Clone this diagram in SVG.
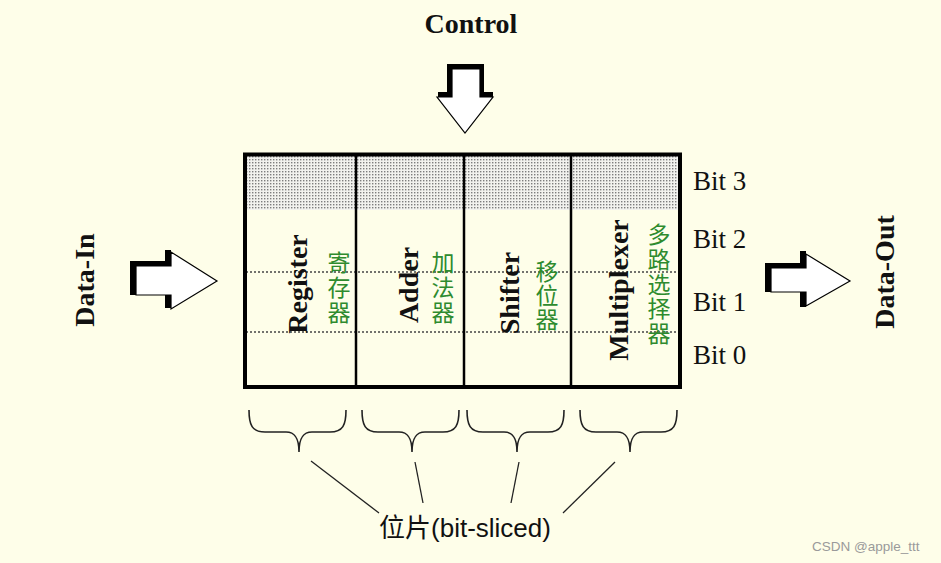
<svg xmlns="http://www.w3.org/2000/svg" width="941" height="563" viewBox="0 0 941 563">
  <defs>
    <pattern id="dots" width="3" height="3" patternUnits="userSpaceOnUse">
      <rect width="3" height="3" fill="#f2f2ee"/>
      <rect x="0" y="0" width="1.4" height="1.4" fill="#7d7d7d"/>
    </pattern>
    <path id="brace" d="M0,0 C0,15 3,22 16,22 L37,22 C46,22 50,28 50,42 C50,28 54,22 63,22 L81,22 C94,22 97,15 97,0" fill="none" stroke="#222" stroke-width="1.6"/>
    <style>
      .bold { font-family: "Liberation Serif", "Times New Roman", serif; font-weight: bold; font-size: 28px; fill: #111; }
      .bit { font-family: "Liberation Serif", "Times New Roman", serif; font-size: 27px; fill: #111; }
      .cn { font-family: "Noto Sans CJK SC", sans-serif; font-size: 23px; fill: #2e8b2e; writing-mode: vertical-rl; text-orientation: upright; }
      .shadow { fill: #000; }
      .arrow { fill: #fff; stroke: #000; stroke-width: 1.2; stroke-linejoin: miter; }
      .div { stroke: #000; stroke-width: 2.5; }
      .dotline { stroke: #444; stroke-width: 1.3; stroke-dasharray: 2 2; }
      .conn { stroke: #222; stroke-width: 1.3; fill: none; }
    </style>
  </defs>

  <rect width="941" height="563" fill="#fefee9"/>

  <g id="control">
    <text class="bold" x="471" y="33" text-anchor="middle">Control</text>
    <rect class="shadow" x="447" y="64" width="37" height="33"/>
    <rect class="shadow" x="438" y="92" width="55" height="5"/>
    <polygon class="arrow" points="452,69 480,69 480,97 493,97 465,133 437,97 452,97"/>
  </g>

  <g id="data-in">
    <text class="bold" transform="translate(94,280) rotate(-90)" text-anchor="middle" font-size="29">Data-In</text>
    <rect class="shadow" x="130" y="261" width="41" height="34"/>
    <rect class="shadow" x="165" y="250" width="6" height="58"/>
    <polygon class="arrow" points="136,266 171,266 171,252 217,281 171,309 171,295 136,295"/>
  </g>

  <g id="data-out">
    <text class="bold" transform="translate(894,272) rotate(-90)" text-anchor="middle">Data-Out</text>
    <rect class="shadow" x="765" y="263" width="42" height="29"/>
    <rect class="shadow" x="800" y="251" width="6" height="56"/>
    <polygon class="arrow" points="771,268 806,268 806,254 850,281 806,306 806,292 771,292"/>
  </g>

  <g id="slice-box">
    <rect x="245" y="154" width="435" height="56" fill="url(#dots)"/>
    <line class="dotline" x1="246" y1="272" x2="679" y2="272"/>
    <line class="dotline" x1="246" y1="332" x2="679" y2="332"/>
    <line class="div" x1="356" y1="154" x2="356" y2="387"/>
    <line class="div" x1="464" y1="154" x2="464" y2="387"/>
    <line class="div" x1="571" y1="154" x2="571" y2="387"/>
    <rect x="245" y="154.5" width="435" height="232.5" fill="none" stroke="#000" stroke-width="4"/>
  </g>

  <g id="register">
    <text class="bold" transform="translate(307,284) rotate(-90)" text-anchor="middle">Register</text>
    <text class="cn" x="339" y="251" letter-spacing="2">寄存器</text>
  </g>
  <g id="adder">
    <text class="bold" transform="translate(418,285) rotate(-90)" text-anchor="middle">Adder</text>
    <text class="cn" x="443" y="251" letter-spacing="2">加法器</text>
  </g>
  <g id="shifter">
    <text class="bold" transform="translate(519,293) rotate(-90)" text-anchor="middle">Shifter</text>
    <text class="cn" x="547" y="260" letter-spacing="1">移位器</text>
  </g>
  <g id="multiplexer">
    <text class="bold" transform="translate(628,290) rotate(-90)" text-anchor="middle">Multiplexer</text>
    <text class="cn" x="659" y="223" letter-spacing="1.7">多路选择器</text>
  </g>

  <g id="bit-labels">
    <text class="bit" x="693" y="190">Bit 3</text>
    <text class="bit" x="693" y="248">Bit 2</text>
    <text class="bit" x="693" y="311">Bit 1</text>
    <text class="bit" x="693" y="364">Bit 0</text>
  </g>

  <g id="braces">
    <use href="#brace" x="249" y="410"/>
    <use href="#brace" x="362" y="410"/>
    <use href="#brace" x="467" y="410"/>
    <use href="#brace" x="580" y="410"/>
  </g>

  <g id="connectors">
    <line class="conn" x1="311" y1="461" x2="379" y2="513"/>
    <line class="conn" x1="415" y1="462" x2="423" y2="503"/>
    <line class="conn" x1="519" y1="462" x2="511" y2="503"/>
    <line class="conn" x1="615" y1="462" x2="563" y2="513"/>
  </g>

  <g id="bit-sliced-label">
    <text x="465" y="537" text-anchor="middle" font-family="'Liberation Sans', 'Noto Sans CJK SC', sans-serif" font-size="26" fill="#111">位片(bit-sliced)</text>
  </g>

  <text x="812" y="551" font-family="'Liberation Sans', Arial, sans-serif" font-size="13.5" fill="#9a9a9a">CSDN @apple_ttt</text>
</svg>
